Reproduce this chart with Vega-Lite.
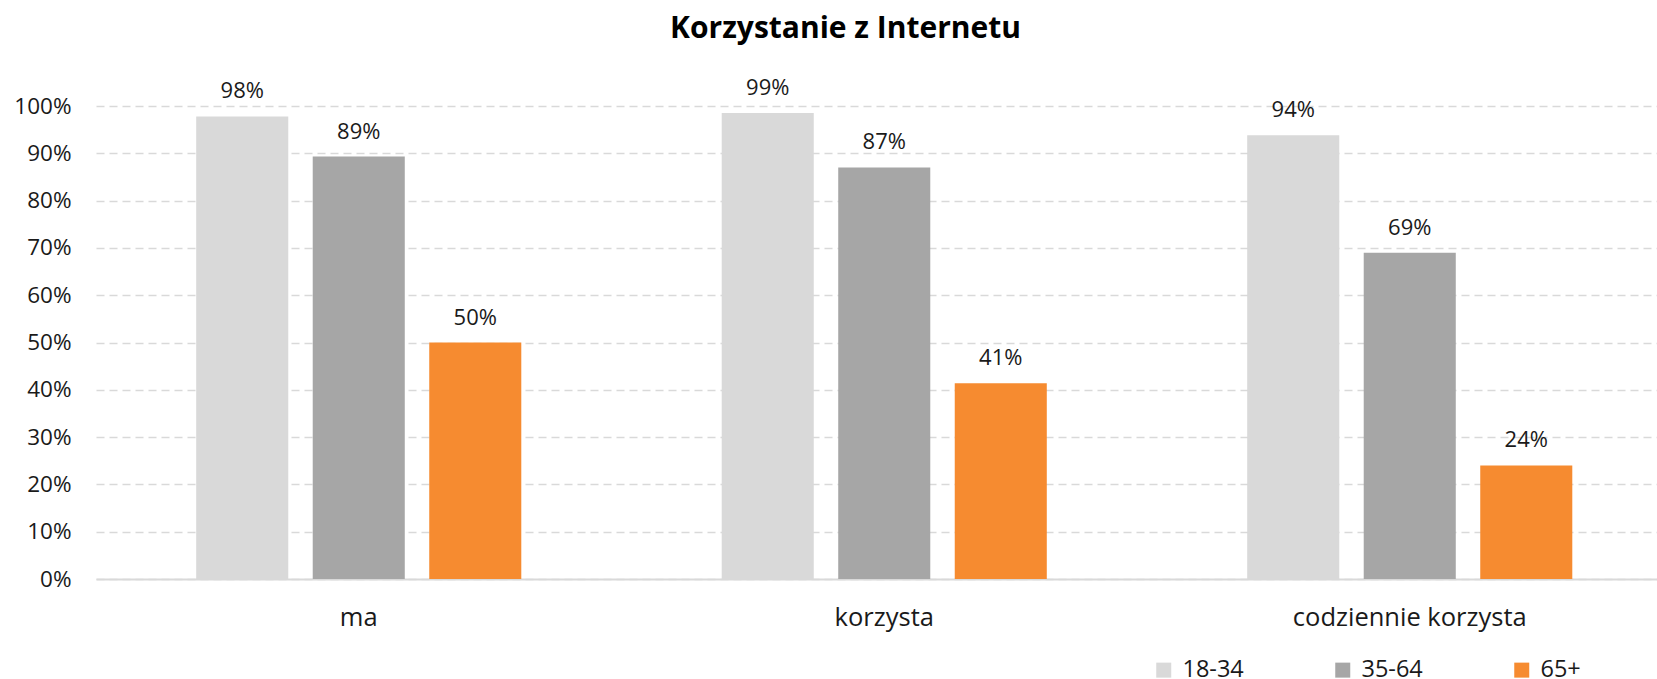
{
  "$schema": "https://vega.github.io/schema/vega-lite/v6.json",
  "width": 1561,
  "height": 473,
  "autosize": {"type": "none"},
  "padding": {"left": 96, "top": 106, "right": 0, "bottom": 100},
  "background": "white",
  "title": {
    "text": "Korzystanie z Internetu",
    "font": "Open Sans",
    "fontSize": 30,
    "fontWeight": "bold",
    "color": "#000000",
    "anchor": "middle",
    "frame": "group",
    "dx": -31,
    "offset": 33
  },
  "config": {
    "view": {"stroke": null},
    "font": "Open Sans"
  },
  "data": {
    "values": [
      {"kategoria": "ma", "grupa": "18-34", "wartosc": 0.978, "etykieta": "98%"},
      {"kategoria": "ma", "grupa": "35-64", "wartosc": 0.893, "etykieta": "89%"},
      {"kategoria": "ma", "grupa": "65+", "wartosc": 0.50, "etykieta": "50%"},
      {"kategoria": "korzysta", "grupa": "18-34", "wartosc": 0.985, "etykieta": "99%"},
      {"kategoria": "korzysta", "grupa": "35-64", "wartosc": 0.87, "etykieta": "87%"},
      {"kategoria": "korzysta", "grupa": "65+", "wartosc": 0.414, "etykieta": "41%"},
      {"kategoria": "codziennie korzysta", "grupa": "18-34", "wartosc": 0.938, "etykieta": "94%"},
      {"kategoria": "codziennie korzysta", "grupa": "35-64", "wartosc": 0.69, "etykieta": "69%"},
      {"kategoria": "codziennie korzysta", "grupa": "65+", "wartosc": 0.24, "etykieta": "24%"}
    ]
  },
  "encoding": {
    "x": {
      "field": "kategoria",
      "type": "nominal",
      "sort": ["ma", "korzysta", "codziennie korzysta"],
      "scale": {"range": [0, 1576.5], "paddingInner": 0, "paddingOuter": 0},
      "axis": {
        "title": null,
        "labelAngle": 0,
        "labelFont": "Open Sans",
        "labelFontSize": 25.5,
        "labelLimit": 400,
        "labelColor": "#1a1a1a",
        "labelBaseline": "alphabetic",
        "labelPadding": 46,
        "ticks": false,
        "domain": true,
        "domainColor": "#d9d9d9",
        "domainWidth": 2,
        "grid": false
      }
    },
    "xOffset": {
      "field": "grupa",
      "type": "nominal",
      "sort": ["18-34", "35-64", "65+"],
      "scale": {"paddingInner": 0.21, "paddingOuter": 0.86}
    },
    "y": {
      "field": "wartosc",
      "type": "quantitative",
      "scale": {"domain": [0, 1], "nice": false, "zero": true},
      "axis": {
        "title": null,
        "format": ".0%",
        "values": [0, 0.1, 0.2, 0.3, 0.4, 0.5, 0.6, 0.7, 0.8, 0.9, 1],
        "labelFont": "Open Sans",
        "labelFontSize": 22.5,
        "labelColor": "#1a1a1a",
        "labelPadding": 25,
        "ticks": false,
        "domain": false,
        "grid": true,
        "gridColor": "#d9d9d9",
        "gridWidth": 1.5,
        "gridDash": [8, 5]
      }
    }
  },
  "layer": [
    {
      "mark": {"type": "bar"},
      "encoding": {
        "color": {
          "field": "grupa",
          "type": "nominal",
          "sort": ["18-34", "35-64", "65+"],
          "scale": {"domain": ["18-34", "35-64", "65+"], "range": ["#d9d9d9", "#a6a6a6", "#f68b30"]},
          "legend": {
            "title": null,
            "orient": "none",
            "direction": "horizontal",
            "columns": 3,
            "legendX": 1056,
            "legendY": 552,
            "symbolType": "square",
            "symbolSize": 225,
            "symbolStrokeWidth": 0,
            "labelFont": "Open Sans",
            "labelFontSize": 23.5,
            "labelColor": "#1a1a1a",
            "labelOffset": 7,
            "columnPadding": 87,
            "padding": 0
          }
        }
      }
    },
    {
      "mark": {"type": "text", "baseline": "alphabetic", "dy": -18, "fontSize": 22, "font": "Open Sans", "color": "#1a1a1a"},
      "encoding": {
        "text": {"field": "etykieta"}
      }
    }
  ]
}
